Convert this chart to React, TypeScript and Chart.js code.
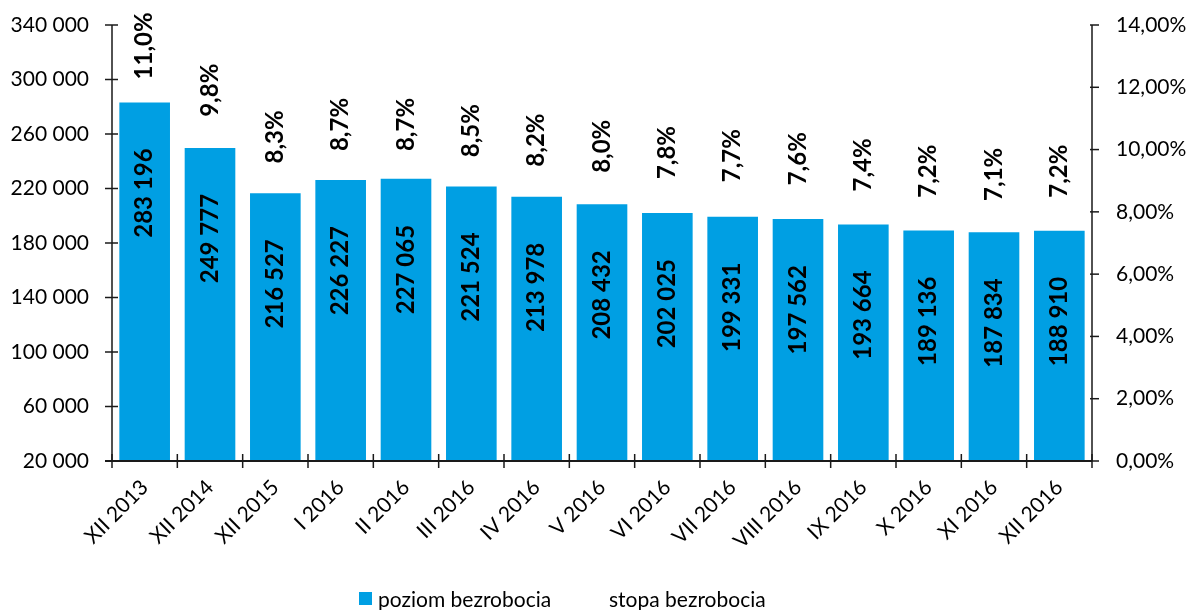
import React, { useEffect, useRef } from "react";
import { Chart, registerables } from "chart.js";

Chart.register(...registerables);

const categories = [
  "XII 2013", "XII 2014", "XII 2015", "I 2016", "II 2016", "III 2016", "IV 2016",
  "V 2016", "VI 2016", "VII 2016", "VIII 2016", "IX 2016", "X 2016", "XI 2016", "XII 2016",
];
const poziomBezrobocia = [
  283196, 249777, 216527, 226227, 227065, 221524, 213978, 208432, 202025, 199331, 197562,
  193664, 189136, 187834, 188910,
];
const stopaBezrobocia = [11.0, 9.8, 8.3, 8.7, 8.7, 8.5, 8.2, 8.0, 7.8, 7.7, 7.6, 7.4, 7.2, 7.1, 7.2];
const legendLabels = ["poziom bezrobocia", "stopa bezrobocia"];

const BLUE = "#009FE3";
const FONT = "Lato, 'Open Sans', sans-serif";

const fmtNum = (v: number) => String(Math.round(v)).replace(/\B(?=(\d{3})+(?!\d))/g, " ");
const fmtPct1 = (v: number) => v.toFixed(1).replace(".", ",") + "%";
const fmtPct2 = (v: number) => v.toFixed(2).replace(".", ",") + "%";

const customPlugin = {
  id: "custom",
  afterDraw(chart: any) {
    const ctx = chart.ctx;
    const area = chart.chartArea;
    const y = chart.scales.y;
    const y1 = chart.scales.y1;
    ctx.save();
    ctx.strokeStyle = "#1a1a1a";
    ctx.lineWidth = 1.5;
    ctx.beginPath();
    ctx.moveTo(area.left, area.top);
    ctx.lineTo(area.left, area.bottom);
    ctx.moveTo(area.right, area.top);
    ctx.lineTo(area.right, area.bottom);
    ctx.stroke();
    y.ticks.forEach((_t: any, i: number) => {
      const py = y.getPixelForTick(i);
      ctx.beginPath();
      ctx.moveTo(area.left - 7, py);
      ctx.lineTo(area.left + 6, py);
      ctx.stroke();
    });
    y1.ticks.forEach((_t: any, i: number) => {
      const py = y1.getPixelForTick(i);
      ctx.beginPath();
      ctx.moveTo(area.right - 2, py);
      ctx.lineTo(area.right + 7, py);
      ctx.stroke();
    });
    ctx.lineWidth = 2;
    ctx.beginPath();
    ctx.moveTo(area.left - 7, area.bottom);
    ctx.lineTo(area.right, area.bottom);
    ctx.stroke();
    const n = categories.length;
    const step = (area.right - area.left) / n;
    ctx.lineWidth = 1.5;
    for (let i = 0; i <= n; i++) {
      const px = area.left + step * i;
      ctx.beginPath();
      ctx.moveTo(px, area.bottom - 7);
      ctx.lineTo(px, area.bottom + 7);
      ctx.stroke();
    }
    const barMeta = chart.getDatasetMeta(0);
    ctx.fillStyle = "#000";
    ctx.font = `bold 24px ${FONT}`;
    ctx.textBaseline = "middle";
    barMeta.data.forEach((bar: any, i: number) => {
      ctx.save();
      ctx.translate(bar.x, bar.y + 46);
      ctx.rotate(-Math.PI / 2);
      ctx.textAlign = "right";
      ctx.fillText(fmtNum(poziomBezrobocia[i]), 0, 0);
      ctx.restore();
    });
    const lineMeta = chart.getDatasetMeta(1);
    lineMeta.data.forEach((pt: any, i: number) => {
      ctx.save();
      ctx.translate(pt.x, pt.y - 39);
      ctx.rotate(-Math.PI / 2);
      ctx.textAlign = "left";
      ctx.fillText(fmtPct1(stopaBezrobocia[i]), 0, 0);
      ctx.restore();
    });
    ctx.fillStyle = BLUE;
    ctx.fillRect(359, 592, 13, 13);
    ctx.fillStyle = "#000";
    ctx.font = `21px ${FONT}`;
    ctx.textAlign = "left";
    ctx.textBaseline = "alphabetic";
    ctx.fillText(legendLabels[0], 378, 607);
    ctx.fillText(legendLabels[1], 609, 607);
    ctx.restore();
  },
};

export default function App() {
  const ref = useRef<HTMLCanvasElement>(null);
  useEffect(() => {
    if (!ref.current) return;
    const chart = new Chart(ref.current, {
      type: "bar",
      data: {
        labels: categories,
        datasets: [
          {
            type: "bar",
            label: legendLabels[0],
            data: poziomBezrobocia,
            backgroundColor: BLUE,
            borderWidth: 0,
            yAxisID: "y",
            categoryPercentage: 1,
            barPercentage: 0.775,
            order: 2,
          },
          {
            type: "line",
            label: legendLabels[1],
            data: stopaBezrobocia,
            yAxisID: "y1",
            showLine: false,
            pointRadius: 0,
            borderColor: "transparent",
            backgroundColor: "transparent",
            order: 1,
          } as any,
        ],
      },
      options: {
        animation: false,
        responsive: false,
        maintainAspectRatio: false,
        layout: { padding: { top: 25, left: 0, right: 0, bottom: 0 } },
        plugins: { legend: { display: false }, tooltip: { enabled: false } },
        scales: {
          x: {
            grid: { display: false, drawTicks: false, tickLength: 0 },
            border: { display: false },
            ticks: {
              color: "#000",
              font: { family: FONT, size: 21 },
              minRotation: 45,
              maxRotation: 45,
              padding: 14,
              autoSkip: false,
            },
            afterFit(scale: any) {
              scale.height = 149;
              scale.paddingLeft = 0;
              scale.paddingRight = 0;
            },
          },
          y: {
            position: "left",
            min: 20000,
            max: 340000,
            grid: { display: false, drawTicks: false, tickLength: 0 },
            border: { display: false },
            ticks: {
              stepSize: 40000,
              color: "#000",
              font: { family: FONT, size: 21 },
              padding: 23,
              callback: (v: any) => fmtNum(Number(v)),
            },
            afterFit(scale: any) {
              scale.width = 112;
              scale.paddingTop = 0;
              scale.paddingBottom = 0;
            },
          },
          y1: {
            position: "right",
            min: 0,
            max: 14,
            grid: { display: false, drawTicks: false, tickLength: 0 },
            border: { display: false },
            ticks: {
              stepSize: 2,
              color: "#000",
              font: { family: FONT, size: 21 },
              padding: 24,
              callback: (v: any) => fmtPct2(Number(v)),
            },
            afterFit(scale: any) {
              scale.width = 96;
              scale.paddingTop = 0;
              scale.paddingBottom = 0;
            },
          },
        },
      },
      plugins: [customPlugin],
    });
    return () => chart.destroy();
  }, []);
  return (
    <div style={{ position: "fixed", left: 0, top: 0, width: 1188, height: 610, background: "#fff" }}>
      <canvas ref={ref} width={1188} height={610} style={{ width: 1188, height: 610 }} />
    </div>
  );
}
